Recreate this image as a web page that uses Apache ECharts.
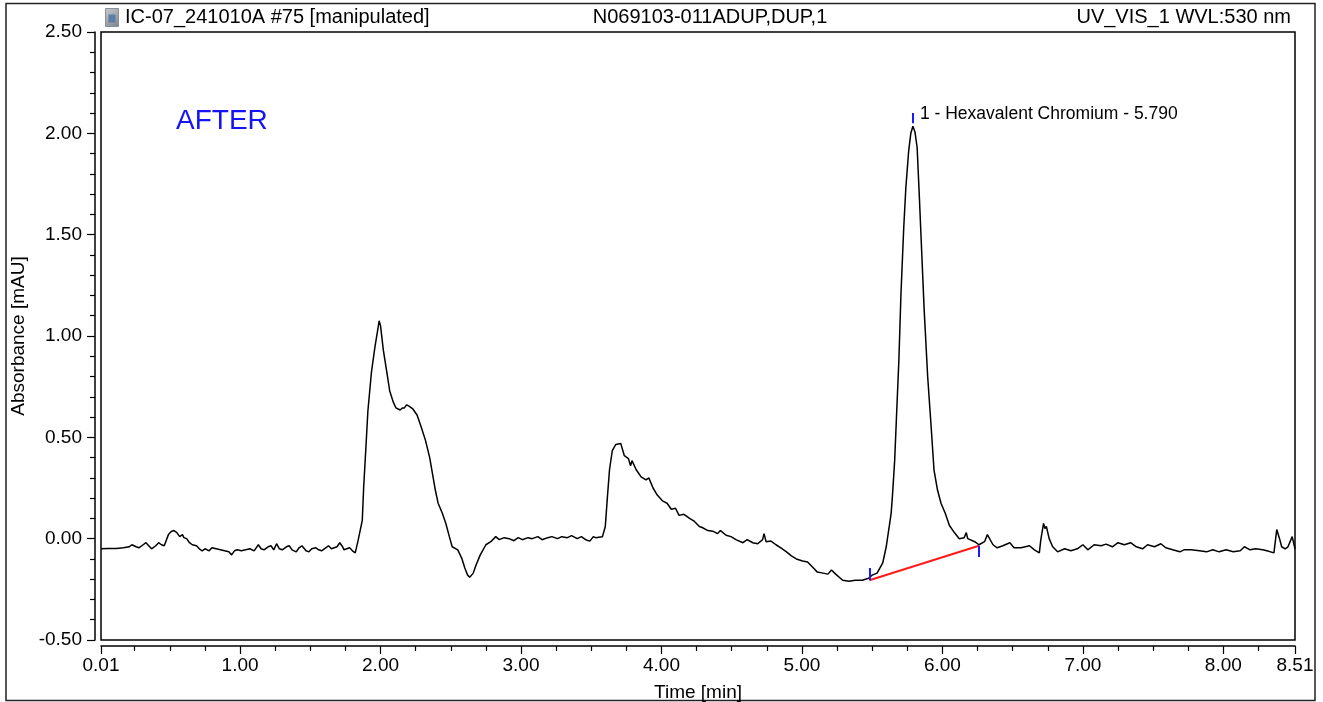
<!DOCTYPE html>
<html>
<head>
<meta charset="utf-8">
<title>Chromatogram</title>
<script src="https://cdn.jsdelivr.net/npm/echarts@6/dist/echarts.min.js"></script>
<style>
    html, body { margin: 0; padding: 0; background: #fff; }
    #chart { width: 1323px; height: 702px; }
</style>
</head>
<body>
<div id="chart"></div>
<script>
// retention time [min]
var times = [
    0.01, 0.06, 0.12, 0.17, 0.21, 0.23, 0.26, 0.28, 0.31, 0.33, 0.35, 0.37, 0.40, 0.42, 0.44, 0.46,
    0.49, 0.51, 0.53, 0.55, 0.57, 0.59, 0.60, 0.62, 0.64, 0.66, 0.69, 0.71, 0.73, 0.75, 0.78, 0.80,
    0.83, 0.86, 0.89, 0.92, 0.94, 0.96, 0.98, 1.01, 1.04, 1.07, 1.10, 1.13, 1.15, 1.17, 1.20, 1.22,
    1.24, 1.26, 1.28, 1.30, 1.33, 1.35, 1.37, 1.40, 1.42, 1.44, 1.47, 1.49, 1.51, 1.54, 1.56, 1.58,
    1.61, 1.63, 1.65, 1.67, 1.69, 1.71, 1.73, 1.74, 1.76, 1.78, 1.80, 1.82, 1.84, 1.87, 1.88, 1.895,
    1.91, 1.935, 1.96, 1.98, 1.99, 2.00, 2.02, 2.045, 2.065, 2.09, 2.11, 2.125, 2.14, 2.155, 2.17, 2.185,
    2.20, 2.23, 2.26, 2.29, 2.32, 2.35, 2.37, 2.39, 2.41, 2.44, 2.465, 2.49, 2.51, 2.55, 2.58, 2.60,
    2.62, 2.635, 2.66, 2.68, 2.71, 2.75, 2.785, 2.82, 2.845, 2.88, 2.915, 2.95, 2.98, 3.01, 3.05, 3.08,
    3.12, 3.15, 3.19, 3.22, 3.26, 3.29, 3.33, 3.36, 3.40, 3.43, 3.46, 3.49, 3.515, 3.53, 3.58, 3.60,
    3.615, 3.63, 3.65, 3.675, 3.71, 3.735, 3.765, 3.78, 3.79, 3.82, 3.855, 3.89, 3.91, 3.94, 3.97, 4.01,
    4.04, 4.07, 4.10, 4.125, 4.16, 4.20, 4.235, 4.27, 4.29, 4.33, 4.365, 4.40, 4.42, 4.46, 4.495, 4.53,
    4.58, 4.61, 4.65, 4.685, 4.72, 4.73, 4.745, 4.78, 4.815, 4.85, 4.89, 4.925, 4.96, 5.005, 5.04, 5.075,
    5.11, 5.15, 5.185, 5.21, 5.24, 5.29, 5.335, 5.38, 5.43, 5.475, 5.50, 5.535, 5.575, 5.60, 5.635, 5.645,
    5.66, 5.675, 5.69, 5.705, 5.725, 5.74, 5.76, 5.775, 5.79, 5.805, 5.82, 5.835, 5.85, 5.87, 5.895, 5.92,
    5.94, 5.965, 5.99, 6.02, 6.05, 6.085, 6.12, 6.155, 6.17, 6.18, 6.23, 6.26, 6.30, 6.32, 6.36, 6.39,
    6.43, 6.48, 6.51, 6.56, 6.62, 6.655, 6.69, 6.70, 6.72, 6.73, 6.74, 6.76, 6.785, 6.82, 6.87, 6.915,
    6.96, 7.00, 7.035, 7.08, 7.13, 7.165, 7.21, 7.25, 7.295, 7.34, 7.38, 7.425, 7.46, 7.51, 7.555, 7.59,
    7.64, 7.69, 7.72, 7.77, 7.83, 7.88, 7.925, 7.97, 8.02, 8.07, 8.12, 8.15, 8.19, 8.23, 8.28, 8.31,
    8.36, 8.37, 8.38, 8.40, 8.415, 8.44, 8.46, 8.49, 8.51
]
// absorbance [mAU]
var absorbance = [
    -0.05, -0.048, -0.048, -0.045, -0.04, -0.03, -0.04, -0.045, -0.03, -0.02, -0.035, -0.05, -0.035, -0.02, -0.03, -0.035,
    0.02, 0.035, 0.04, 0.03, 0.01, 0.02, 0.005, 0.0, -0.02, -0.03, -0.035, -0.05, -0.06, -0.05, -0.06, -0.045,
    -0.05, -0.055, -0.06, -0.065, -0.08, -0.06, -0.055, -0.06, -0.055, -0.05, -0.06, -0.03, -0.05, -0.055, -0.04, -0.035,
    -0.055, -0.025, -0.05, -0.055, -0.04, -0.035, -0.055, -0.065, -0.045, -0.035, -0.06, -0.065, -0.05, -0.045, -0.055, -0.06,
    -0.045, -0.035, -0.05, -0.045, -0.04, -0.02, -0.04, -0.055, -0.05, -0.045, -0.06, -0.07, -0.01, 0.09, 0.255, 0.44,
    0.63, 0.82, 0.945, 1.03, 1.075, 1.05, 0.93, 0.82, 0.73, 0.675, 0.645, 0.64, 0.635, 0.645, 0.645, 0.66,
    0.655, 0.64, 0.61, 0.55, 0.485, 0.40, 0.32, 0.24, 0.175, 0.125, 0.075, 0.01, -0.04, -0.055, -0.10, -0.145,
    -0.18, -0.19, -0.17, -0.13, -0.08, -0.03, -0.015, 0.01, -0.005, 0.005, 0.0, -0.01, 0.005, -0.005, 0.005, 0.0,
    0.01, -0.005, 0.005, 0.01, 0.0, 0.01, 0.005, 0.015, 0.0, 0.01, -0.005, -0.012, 0.01, 0.005, 0.01, 0.06,
    0.205, 0.34, 0.435, 0.465, 0.47, 0.41, 0.395, 0.36, 0.385, 0.34, 0.305, 0.29, 0.30, 0.25, 0.215, 0.185,
    0.175, 0.145, 0.15, 0.115, 0.12, 0.10, 0.085, 0.06, 0.055, 0.04, 0.037, 0.025, 0.04, 0.017, 0.01, -0.005,
    -0.02, -0.005, -0.02, -0.025, -0.005, 0.025, -0.015, -0.012, -0.03, -0.045, -0.065, -0.085, -0.10, -0.11, -0.115, -0.14,
    -0.165, -0.17, -0.175, -0.155, -0.175, -0.205, -0.21, -0.205, -0.205, -0.195, -0.18, -0.17, -0.12, -0.04, 0.125, 0.22,
    0.385, 0.635, 0.88, 1.21, 1.54, 1.735, 1.915, 2.00, 2.035, 2.005, 1.93, 1.70, 1.455, 1.13, 0.80, 0.55,
    0.34, 0.24, 0.175, 0.125, 0.065, 0.03, 0.0, 0.005, 0.03, 0.0, -0.015, -0.03, -0.015, 0.02, -0.03, -0.045,
    -0.035, -0.02, -0.045, -0.045, -0.035, -0.055, -0.07, -0.007, 0.075, 0.05, 0.06, 0.0, -0.04, -0.065, -0.05, -0.06,
    -0.05, -0.03, -0.055, -0.03, -0.035, -0.027, -0.04, -0.02, -0.03, -0.02, -0.04, -0.05, -0.03, -0.04, -0.025, -0.045,
    -0.055, -0.065, -0.055, -0.055, -0.06, -0.065, -0.055, -0.065, -0.055, -0.065, -0.06, -0.04, -0.055, -0.05, -0.055, -0.06,
    -0.07, -0.07, 0.045, 0.0, -0.04, -0.05, -0.04, 0.01, -0.05
]

// integration baseline of peak 1
var baselineTimes = [5.48, 6.26]
var baselineValues = [-0.205, -0.035]

// peak start / apex / end markers
var markerTimes = [5.48, 5.79, 6.26]
var markerLow = [-0.205, 2.05, -0.09]
var markerHigh = [-0.145, 2.10, -0.035]

var peakLabel = '1 - Hexavalent Chromium - 5.790'

// tick labels
var xMajorTicks = [0.01, 1, 2, 3, 4, 5, 6, 7, 8, 8.51]
var xMinorTicks = [0.25, 0.5, 0.75, 1.25, 1.5, 1.75, 2.25, 2.5, 2.75, 3.25, 3.5, 3.75, 4.25, 4.5, 4.75,
    5.25, 5.5, 5.75, 6.25, 6.5, 6.75, 7.25, 7.5, 7.75, 8.25]

var FONT = 'Liberation Sans, Arial, sans-serif'

var chart = echarts.init(document.getElementById('chart'), null, { renderer: 'canvas' })

var traceData = times.map(function (t, i) { return [t, absorbance[i]] })
var baselineData = baselineTimes.map(function (t, i) { return [t, baselineValues[i]] })
var markerLines = markerTimes.map(function (t, i) {
    return [{ coord: [t, markerLow[i]] }, { coord: [t, markerHigh[i]] }]
})

var option = {
    animation: false,
    backgroundColor: '#fff',
    grid: {
        left: 101,
        right: 28,
        top: 32,
        bottom: 62,
        containLabel: false,
        outerBoundsMode: 'none',
        show: true,
        borderColor: '#000',
        borderWidth: 1.5,
        backgroundColor: 'transparent'
    },
    xAxis: [
        {
            type: 'value',
            min: 0.01,
            max: 8.51,
            offset: 6,
            name: 'Time [min]',
            nameLocation: 'middle',
            nameGap: 37,
            nameTextStyle: { color: '#000', fontSize: 19, fontFamily: FONT },
            axisLine: { show: true, onZero: false, lineStyle: { color: '#000', width: 1.5 } },
            axisTick: { show: true, customValues: xMajorTicks, length: 8, lineStyle: { color: '#000', width: 1.2 } },
            axisLabel: {
                customValues: xMajorTicks,
                color: '#000',
                fontSize: 19,
                fontFamily: FONT,
                margin: 10,
                formatter: function (v) { return v.toFixed(2) }
            },
            splitLine: { show: false }
        },
        {
            // minor ticks
            type: 'value',
            min: 0.01,
            max: 8.51,
            offset: 6,
            position: 'bottom',
            axisLine: { show: false, onZero: false },
            axisTick: { show: true, customValues: xMinorTicks, length: 5, lineStyle: { color: '#000', width: 1.2 } },
            axisLabel: { show: false },
            splitLine: { show: false }
        }
    ],
    yAxis: {
        type: 'value',
        min: -0.5,
        max: 2.5,
        interval: 0.5,
        offset: 6,
        name: 'Absorbance [mAU]',
        nameLocation: 'middle',
        nameGap: 67,
        nameTextStyle: { color: '#000', fontSize: 19, fontFamily: FONT },
        axisLine: { show: true, onZero: false, lineStyle: { color: '#000', width: 1.5 } },
        axisTick: { show: true, length: 8, lineStyle: { color: '#000', width: 1.2 } },
        minorTick: { show: true, splitNumber: 5, length: 5, lineStyle: { color: '#000', width: 1.2 } },
        axisLabel: {
            color: '#000',
            fontSize: 19,
            fontFamily: FONT,
            margin: 13,
            formatter: function (v) { return v.toFixed(2) }
        },
        splitLine: { show: false }
    },
    series: [
        {
            type: 'line',
            data: traceData,
            showSymbol: false,
            symbol: 'none',
            lineStyle: { color: '#000', width: 1.5 },
            silent: true,
            z: 3,
            markLine: {
                silent: true,
                symbol: ['none', 'none'],
                label: { show: false },
                lineStyle: { color: '#1a1aff', width: 2, type: 'solid' },
                emphasis: { disabled: true },
                data: markerLines
            },
            markPoint: {
                silent: true,
                symbol: 'circle',
                symbolSize: 0,
                label: {
                    show: true,
                    position: 'right',
                    distance: 7,
                    color: '#000',
                    fontSize: 17.5,
                    fontFamily: FONT,
                    formatter: peakLabel
                },
                data: [{ coord: [markerTimes[1], markerHigh[1] - 0.005] }]
            }
        },
        {
            type: 'line',
            data: baselineData,
            showSymbol: false,
            symbol: 'none',
            lineStyle: { color: '#ff1a1a', width: 2 },
            silent: true,
            z: 4
        }
    ],
    graphic: [
        {
            type: 'rect',
            shape: { x: 6, y: 3.5, width: 1309, height: 697 },
            style: { fill: 'none', stroke: '#222', lineWidth: 1.5 },
            silent: true,
            z: -1
        },
        {
            // document icon
            type: 'group',
            left: 105,
            top: 8,
            children: [
                {
                    type: 'rect',
                    shape: { x: 0, y: 0, width: 13, height: 18 },
                    style: {
                        fill: new echarts.graphic.LinearGradient(0, 0, 1, 1, [
                            { offset: 0, color: '#c9ccd0' },
                            { offset: 1, color: '#7d848c' }
                        ]),
                        stroke: '#8a9097',
                        lineWidth: 1
                    }
                },
                {
                    type: 'rect',
                    shape: { x: 3, y: 6, width: 7, height: 8 },
                    style: { fill: '#5b7fa6' }
                }
            ]
        },
        {
            type: 'text',
            x: 125,
            y: 17,
            style: {
                text: 'IC-07_241010A #75 [manipulated]',
                font: '20px ' + FONT,
                fill: '#000',
                textAlign: 'left',
                textVerticalAlign: 'middle'
            }
        },
        {
            type: 'text',
            x: 710,
            y: 17,
            style: {
                text: 'N069103-011ADUP,DUP,1',
                font: '20px ' + FONT,
                fill: '#000',
                textAlign: 'center',
                textVerticalAlign: 'middle'
            }
        },
        {
            type: 'text',
            x: 1291,
            y: 17,
            style: {
                text: 'UV_VIS_1 WVL:530 nm',
                font: '20px ' + FONT,
                fill: '#000',
                textAlign: 'right',
                textVerticalAlign: 'middle'
            }
        },
        {
            type: 'text',
            x: 176,
            y: 121,
            style: {
                text: 'AFTER',
                font: '28px ' + FONT,
                fill: '#1414f5',
                textAlign: 'left',
                textVerticalAlign: 'middle'
            }
        }
    ]
}

chart.setOption(option)
</script>
</body>
</html>
